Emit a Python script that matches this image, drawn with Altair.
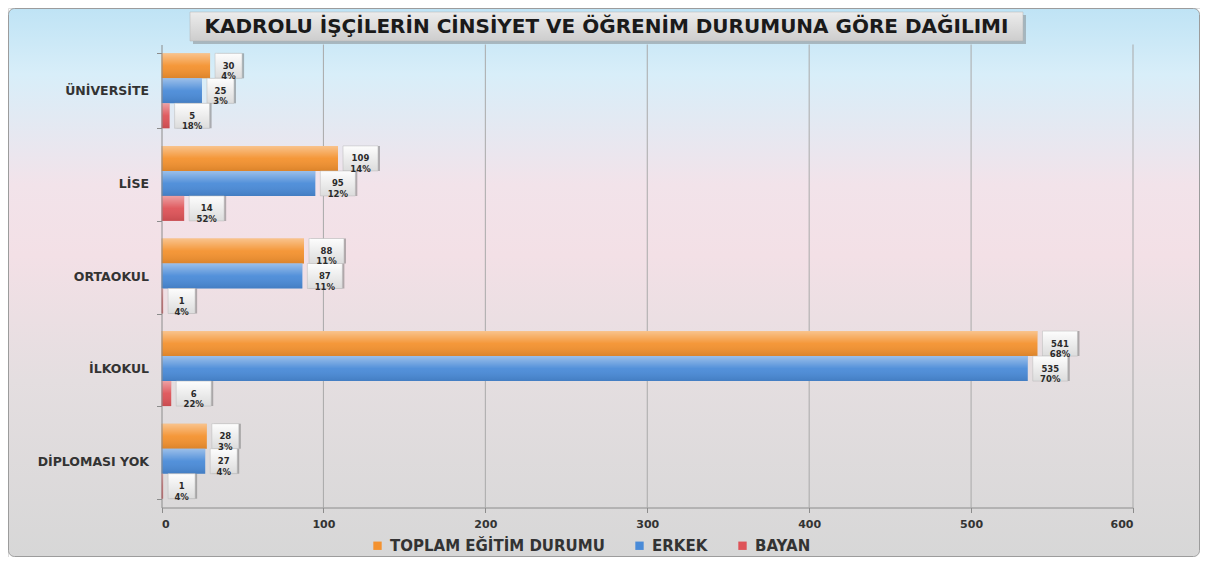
import altair as alt
import pandas as pd

# ---------------- data ----------------
categories = ["ÜNİVERSİTE", "LİSE", "ORTAOKUL", "İLKOKUL", "DİPLOMASI YOK"]
series_names = ["TOPLAM EĞİTİM DURUMU", "ERKEK", "BAYAN"]
toplam = [30, 109, 88, 541, 28]
toplam_pct = ["4%", "14%", "11%", "68%", "3%"]
erkek = [25, 95, 87, 535, 27]
erkek_pct = ["3%", "12%", "11%", "70%", "4%"]
bayan = [5, 14, 1, 6, 1]
bayan_pct = ["18%", "52%", "4%", "22%", "4%"]
x_ticks = [0, 100, 200, 300, 400, 500, 600]
title_text = "KADROLU İŞÇİLERİN CİNSİYET VE ÖĞRENİM DURUMUNA GÖRE DAĞILIMI"
colors = ["#F4922F", "#4A8BD8", "#DE5358"]

rows = []
for s, vals, pcts in zip(series_names, [toplam, erkek, bayan], [toplam_pct, erkek_pct, bayan_pct]):
    for c, v, p in zip(categories, vals, pcts):
        rows.append({"cat": c, "series": s, "value": v, "pct": p, "label": f"{v}\n{p}"})
df = pd.DataFrame(rows)
grid_df = pd.DataFrame({"value": x_ticks[1:]})
deco_df = pd.DataFrame({"t": [title_text]})

# ---------------- layout ----------------
W, H = 1192, 549
X0, X1 = 153.5, 1125
Y0, Y1 = 36.5, 499.5
FONT = "DejaVu Sans"

xscale = alt.Scale(domain=[0, 600], range=[X0, X1], nice=False)
yscale = alt.Scale(domain=categories, range=[Y0, Y1], paddingInner=0.19, paddingOuter=0.095)

x_enc = alt.X("value:Q", scale=xscale, title=None,
              axis=alt.Axis(values=x_ticks, grid=False, domainColor="#8c8c8c", tickColor="#8c8c8c",
                            tickSize=5, labelFont=FONT, labelFontWeight="bold", labelFontSize=11,
                            labelColor="#333333", labelPadding=6, offset=Y1 - H, zindex=1))
y_enc = alt.Y("cat:N", scale=yscale, title=None,
              axis=alt.Axis(orient="left", offset=-X0, grid=False, domainColor="#8c8c8c",
                            tickColor="#8c8c8c", tickSize=5, tickBand="extent", labelPadding=8,
                            labelFont=FONT, labelFontWeight="bold", labelFontSize=12.5,
                            labelColor="#333333", zindex=1))
yoff_enc = alt.YOffset("series:N", scale=alt.Scale(domain=series_names, paddingInner=0, paddingOuter=0))

bg_grad = {"gradient": "linear", "x1": 0, "y1": 0, "x2": 0, "y2": 1,
           "stops": [{"offset": 0, "color": "#bfe3f5"},
                     {"offset": 0.12, "color": "#d8eef9"},
                     {"offset": 0.32, "color": "#f2e3ea"},
                     {"offset": 0.45, "color": "#f3e0e6"},
                     {"offset": 0.68, "color": "#e4dee0"},
                     {"offset": 1, "color": "#d7d7d7"}]}
bar_grad = {"gradient": "linear", "x1": 0, "y1": 0, "x2": 0, "y2": 1,
            "stops": [{"offset": 0, "color": "rgba(255,255,255,0.45)"},
                      {"offset": 0.5, "color": "rgba(255,255,255,0.05)"},
                      {"offset": 1, "color": "rgba(0,0,0,0.10)"}]}
box_grad = {"gradient": "linear", "x1": 0, "y1": 0, "x2": 0, "y2": 1,
            "stops": [{"offset": 0, "color": "#fdfdfd"}, {"offset": 1, "color": "#dcdcdc"}]}
title_grad = {"gradient": "linear", "x1": 0, "y1": 0, "x2": 0, "y2": 1,
              "stops": [{"offset": 0, "color": "#ececec"}, {"offset": 1, "color": "#cdcdcd"}]}

# background
background = alt.Chart(deco_df).mark_rect(fill=bg_grad, stroke="#9c9c9c", strokeWidth=1,
                                          cornerRadius=6).encode(
    x=alt.value(0.5), x2=alt.value(W - 0.5), y=alt.value(0.5), y2=alt.value(H - 0.5))

# title box
title_shadow = alt.Chart(deco_df).mark_rect(fill="#7a7a7a", opacity=0.45).encode(
    x=alt.value(185), x2=alt.value(1018), y=alt.value(7), y2=alt.value(36))
title_box = alt.Chart(deco_df).mark_rect(fill=title_grad, stroke="#b0b0b0", strokeWidth=0.5).encode(
    x=alt.value(182), x2=alt.value(1015), y=alt.value(4), y2=alt.value(33))
title = alt.Chart(deco_df).mark_text(font=FONT, fontWeight="bold", fontSize=20,
                                     color="#1a1a1a", align="center", baseline="middle").encode(
    x=alt.value(598.5), y=alt.value(19), text="t:N")

# grid
grid = alt.Chart(grid_df).mark_rule(color="#a9a9a9", strokeWidth=1).encode(
    x=x_enc, y=alt.value(Y0), y2=alt.value(Y1))

base = alt.Chart(df)
bars = base.mark_bar().encode(
    x=x_enc, y=y_enc, yOffset=yoff_enc,
    color=alt.Color("series:N", scale=alt.Scale(domain=series_names, range=colors),
                    legend=alt.Legend(title=None, orient="none", legendX=362, legendY=530,
                                      direction="horizontal", symbolType="square", symbolSize=70,
                                      symbolStrokeWidth=0, labelFont=FONT, labelFontWeight="bold",
                                      labelFontSize=15, labelColor="#333333", columnPadding=27,
                                      labelOffset=5, labelLimit=400)))
bars_shine = base.mark_bar(fill=bar_grad).encode(x=x_enc, y=y_enc, yOffset=yoff_enc)

labels = []
lab_base = base.transform_calculate(nch="max(length(toString(datum.value)), length(datum.pct))")
for cond, w in [("datum.nch <= 2", 27), ("datum.nch >= 3", 35)]:
    sub = lab_base.transform_filter(cond)
    labels.append(sub.mark_rect(fill="#6f6f6f", opacity=0.5, xOffset=7, x2Offset=7 + w,
                                yOffset=2, y2Offset=2).encode(
        x=x_enc, x2=alt.X2("value:Q"), y=y_enc, yOffset=yoff_enc))
    labels.append(sub.mark_rect(fill=box_grad, stroke="#b8b8b8", strokeWidth=0.5,
                                xOffset=5, x2Offset=5 + w).encode(
        x=x_enc, x2=alt.X2("value:Q"), y=y_enc, yOffset=yoff_enc))
    labels.append(sub.mark_text(font=FONT, fontWeight="bold", fontSize=8.5, color="#2a2a2a",
                                lineBreak="\n", lineHeight=10.5, align="center", baseline="middle",
                                xOffset=5 + w / 2).encode(
        x=x_enc, y=y_enc, yOffset=yoff_enc, text="label:N"))

chart = alt.layer(background, title_shadow, title_box, title, grid, bars, bars_shine, *labels).properties(
    width=W, height=H, autosize=alt.AutoSizeParams(type="none"), padding=0
).configure_view(strokeWidth=0).configure(background="#ffffff")

chart.save("out.html", embed_options={"renderer": "svg", "actions": False})
